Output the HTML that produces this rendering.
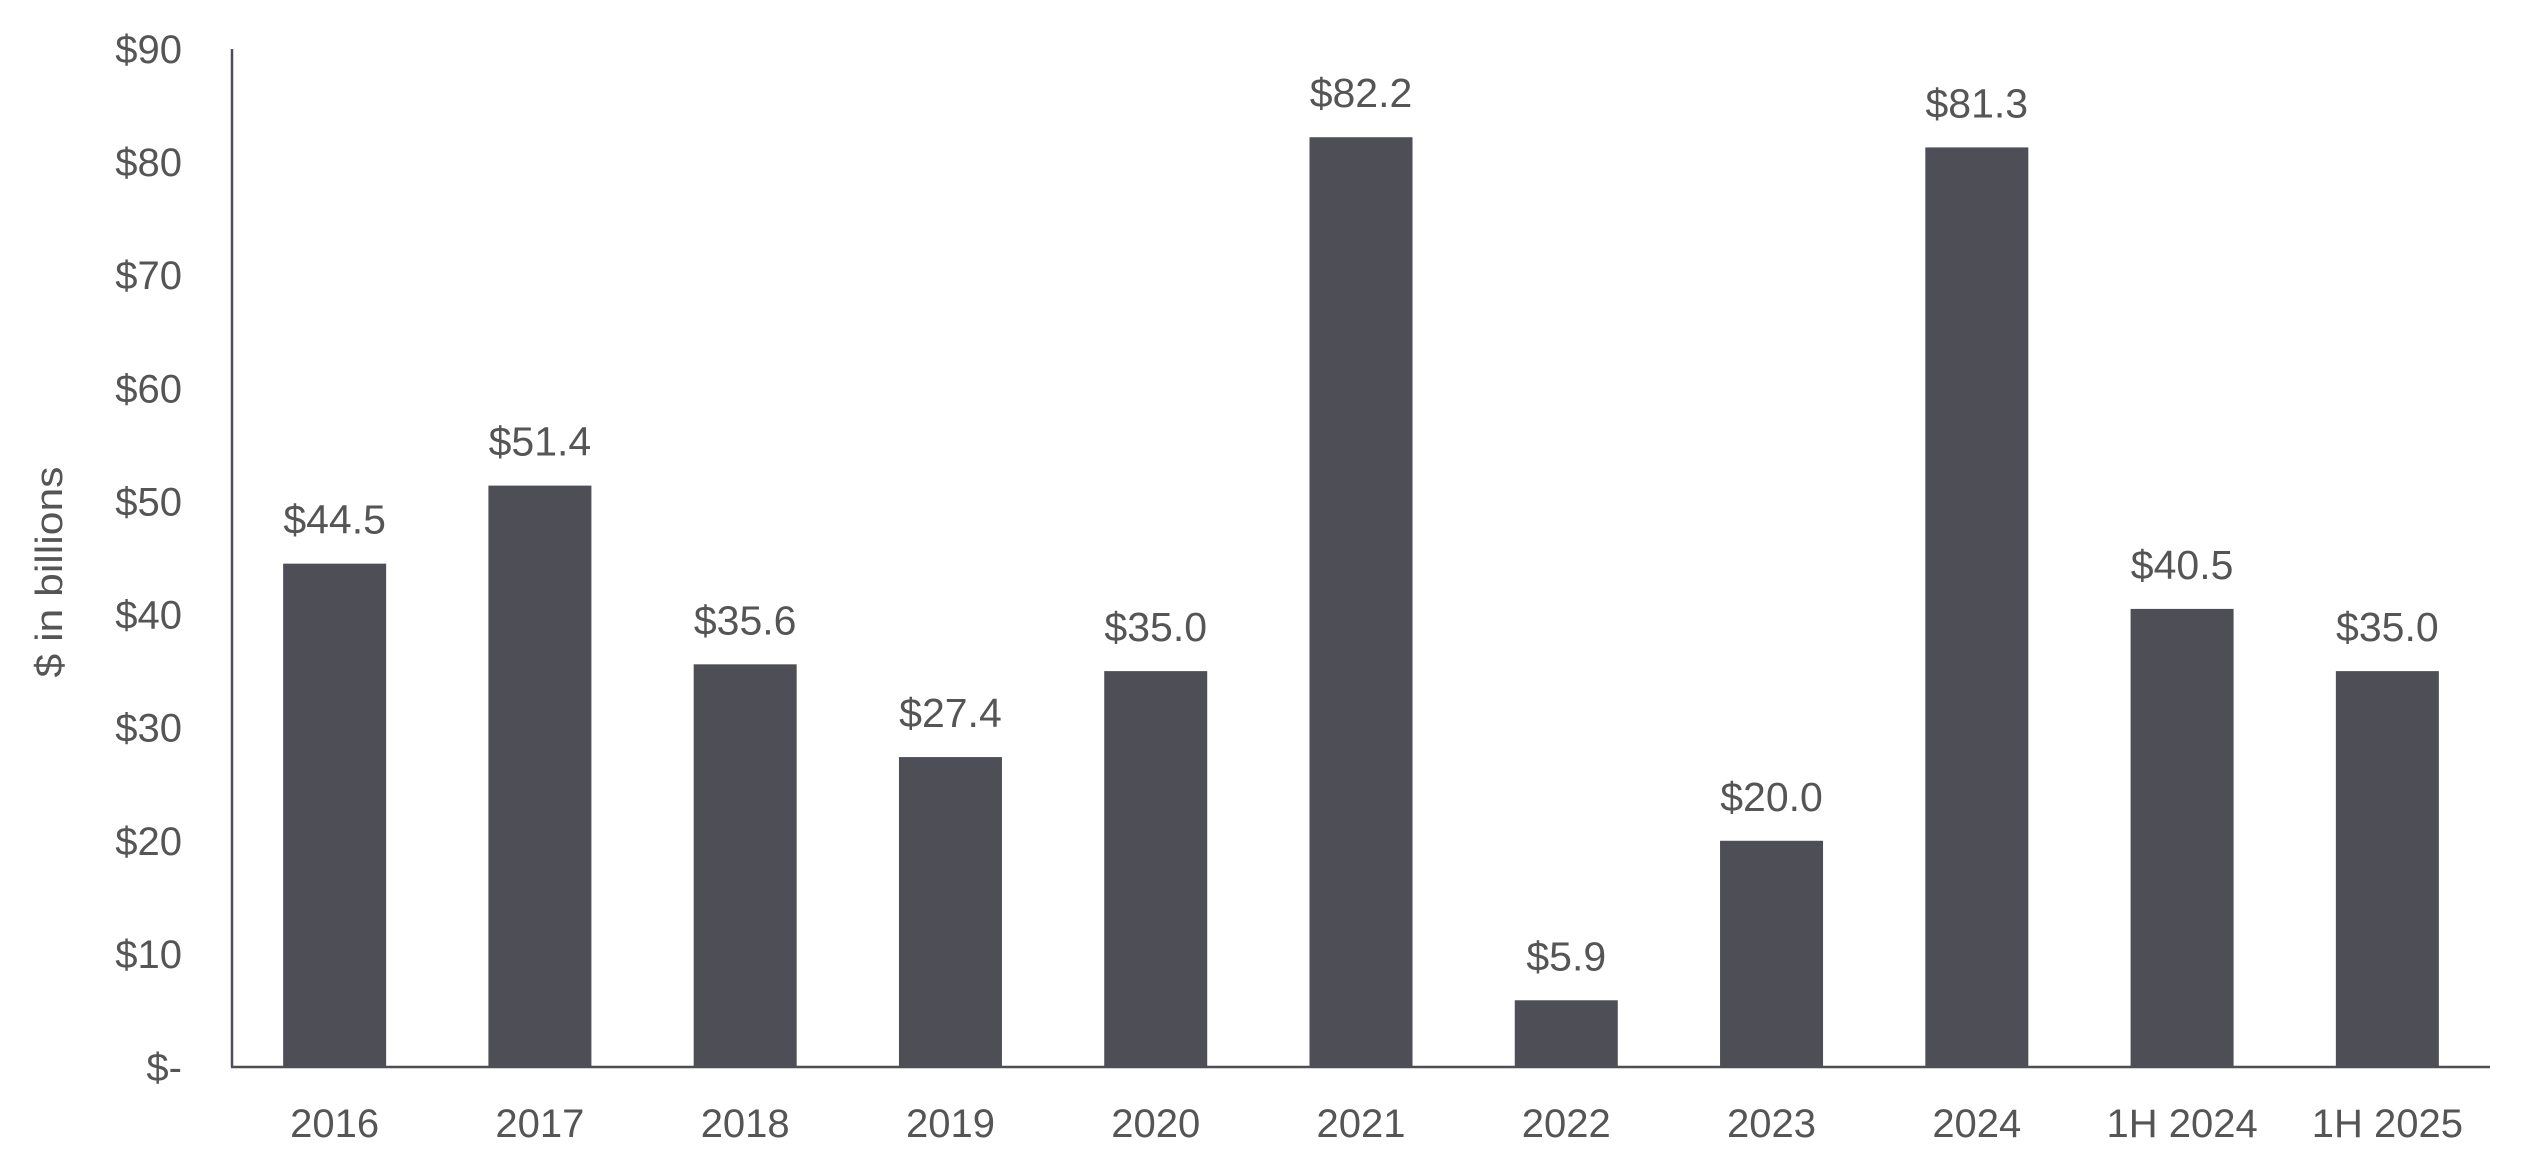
<!DOCTYPE html>
<html><head><meta charset="utf-8"><style>
html,body{margin:0;padding:0;background:#fff;}
svg{display:block;font-family:"Liberation Sans",sans-serif;}
</style></head><body>
<svg id="chart" width="2530" height="1175">
<g id="yticks"></g>
<text transform="translate(62,572) rotate(-90)" text-anchor="middle" font-size="38" fill="#555" textLength="211" lengthAdjust="spacingAndGlyphs">$ in billions</text>
<g id="bars"></g>
<line x1="232" y1="49" x2="232" y2="1067" stroke="#4e4e56" stroke-width="2.5"/>
<line x1="231" y1="1067" x2="2490" y2="1067" stroke="#4e4e56" stroke-width="2.5"/>
</svg>
<script>
const categories=["2016","2017","2018","2019","2020","2021","2022","2023","2024","1H 2024","1H 2025"];
const values=[44.5,51.4,35.6,27.4,35.0,82.2,5.9,20.0,81.3,40.5,35.0];
const yTicks=[0,10,20,30,40,50,60,70,80,90];
const yTickLabels=["$-","$10","$20","$30","$40","$50","$60","$70","$80","$90"];
const NS="http://www.w3.org/2000/svg";
const plotLeft=232,plotRight=2490,plotTop=49,plotBase=1067,yMax=90;
const band=(plotRight-plotLeft)/categories.length,barW=103;
function yScale(v){return plotBase-(v/yMax)*(plotBase-plotTop);}
function xc(i){return plotLeft+band*(i+0.5);}
const yt=document.getElementById('yticks');
yTicks.forEach((t,i)=>{
 const tx=document.createElementNS(NS,'text');
 
 
 tx.setAttribute('x',182);tx.setAttribute('y',yScale(t)+14);
 tx.setAttribute('text-anchor','end');tx.setAttribute('font-size','40');tx.setAttribute('fill','#555');
 tx.textContent=yTickLabels[i];yt.appendChild(tx);
});
const g=document.getElementById('bars');
categories.forEach((c,i)=>{
 const r=document.createElementNS(NS,'rect');
 
 
 r.setAttribute('x',xc(i)-barW/2);r.setAttribute('y',yScale(values[i]));
 r.setAttribute('width',barW);r.setAttribute('height',plotBase-yScale(values[i]));
 r.setAttribute('fill','#4e4e56');g.appendChild(r);
 const v=document.createElementNS(NS,'text');
 
 
 v.setAttribute('x',xc(i));v.setAttribute('y',yScale(values[i])-30);
 v.setAttribute('text-anchor','middle');v.setAttribute('font-size','41');v.setAttribute('fill','#555');
 v.textContent='$'+values[i].toFixed(1);g.appendChild(v);
 const l=document.createElementNS(NS,'text');
 
 
 l.setAttribute('x',xc(i));l.setAttribute('y',1137);
 l.setAttribute('text-anchor','middle');l.setAttribute('font-size','40');l.setAttribute('fill','#555');
 l.textContent=c;g.appendChild(l);
});
</script>
</body></html>
